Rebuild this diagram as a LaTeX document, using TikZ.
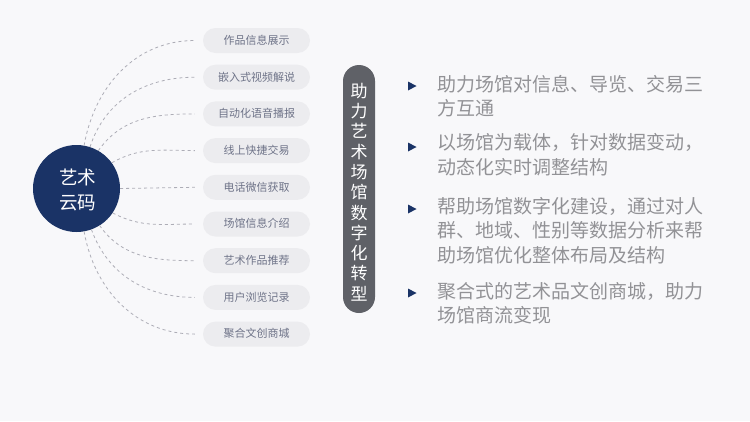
\documentclass[tikz,border=0pt]{standalone}
\usepackage{fontspec}
\setmainfont{Noto Sans CJK SC}
\usetikzlibrary{calc}
\definecolor{bg}{HTML}{F8F8FA}
\definecolor{navy}{HTML}{1A3366}
\definecolor{pillfill}{HTML}{ECECEF}
\definecolor{pilltext}{HTML}{6E7388}
\definecolor{dashc}{HTML}{ADADB6}
\definecolor{vbar}{HTML}{5F6167}
\definecolor{bodytext}{HTML}{929296}
\tikzset{
  pill/.style={fill=pillfill, rounded corners=12.5pt, minimum width=107pt, minimum height=25pt,
    inner sep=0pt, text=pilltext, font=\fontsize{11}{13}\selectfont, text height=0.88em, text depth=0.12em},
  link/.style={draw=dashc, line width=0.8pt, dash pattern=on 3pt off 3pt},
  bodyline/.style={anchor=west, inner sep=0pt, text=bodytext, font=\fontsize{19}{24}\selectfont,
    text height=0.88em, text depth=0.12em},
  bullet/.style={fill=navy, draw=none},
}
\begin{document}
\begin{tikzpicture}[x=1pt,y=-1pt]
\fill[bg] (0,0) rectangle (750,421);
\useasboundingbox (0,0) rectangle (750,421);

% central circle
\node[circle, fill=navy, minimum size=87pt, inner sep=0pt] (c) at (76.5,188.5) {};
\node[text=white, align=center, font=\fontsize{18.5}{24.5}\selectfont] (ct) at (77.5,190) {艺术\\云码};

% pills
\node[pill] (p1) at (256.5,40.5) {作品信息展示};
\node[pill] (p2) at (256.5,77.2) {嵌入式视频解说};
\node[pill] (p3) at (256.5,113.9) {自动化语音播报};
\node[pill] (p4) at (256.5,150.6) {线上快捷交易};
\node[pill] (p5) at (256.5,187.3) {电话微信获取};
\node[pill] (p6) at (256.5,224) {场馆信息介绍};
\node[pill] (p7) at (256.5,260.7) {艺术作品推荐};
\node[pill] (p8) at (256.5,297.4) {用户浏览记录};
\node[pill] (p9) at (256.5,334.1) {聚合文创商城};

% dashed links
\draw[link] (c.80)  to[out=80, in=180] ($(p1.west)+(-8,0)$);
\draw[link] (c.72)  to[out=72, in=180] ($(p2.west)+(-8,0)$);
\draw[link] (c.60)  to[out=55, in=180] ($(p3.west)+(-8,0)$);
\draw[link] (c.36)  to[out=30, in=180] ($(p4.west)+(-8,0)$);
\draw[link] (c.0)   -- ($(p5.west)+(-8,0)$);
\draw[link] (c.-34) to[out=-28, in=180] ($(p6.west)+(-8,0)$);
\draw[link] (c.-58) to[out=-55, in=180] ($(p7.west)+(-8,0)$);
\draw[link] (c.-70) to[out=-70, in=180] ($(p8.west)+(-8,0)$);
\draw[link] (c.-80) to[out=-80, in=180] ($(p9.west)+(-8,0)$);

% vertical bar
\node[fill=vbar, rounded corners=16pt, minimum width=32pt, minimum height=248pt, inner sep=0pt] (vb) at (359,189) {};
\node[text=white, align=center, font=\fontsize{17}{20.3}\selectfont, inner sep=0pt] (vt) at (359,192)
  {助\\力\\艺\\术\\场\\馆\\数\\字\\化\\转\\型};

% bullets
\foreach \n/\y in {1/86, 2/147, 3/209, 4/293}{
  \path[bullet] (408,\y-4.5) -- (416.5,\y) -- (408,\y+4.5) -- cycle;
}

% body text
\node[bodyline] (t1a) at (437,87.5) {助力场馆对信息、导览、交易三};
\node[bodyline] (t1b) at (437,112) {方互通};
\node[bodyline] (t2a) at (437,146) {以场馆为载体，针对数据变动，};
\node[bodyline] (t2b) at (437,170.5) {动态化实时调整结构};
\node[bodyline] (t3a) at (437,209.5) {帮助场馆数字化建设，通过对人};
\node[bodyline] (t3b) at (437,234) {群、地域、性别等数据分析来帮};
\node[bodyline] (t3c) at (437,258.5) {助场馆优化整体布局及结构};
\node[bodyline] (t4a) at (437,294.5) {聚合式的艺术品文创商城，助力};
\node[bodyline] (t4b) at (437,319) {场馆商流变现};
\end{tikzpicture}
\end{document}
